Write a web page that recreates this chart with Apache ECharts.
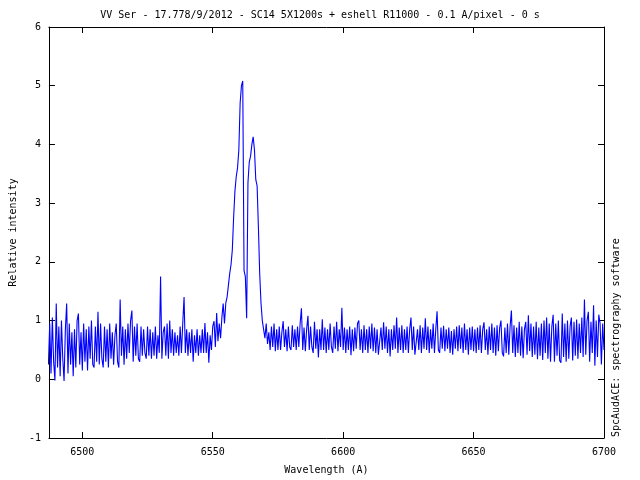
<!DOCTYPE html>
<html>
<head>
<meta charset="utf-8">
<script src="https://cdn.jsdelivr.net/npm/echarts@6/dist/echarts.min.js"></script>
<style>html,body{margin:0;padding:0;background:#fff}#c{width:640px;height:480px}</style>
</head>
<body>
<div id="c"></div>
<script>
// Spectrum: first wavelength (A) and sampling step (A) of the intensity list below
const wavelengthStart = 6487.0;
const wavelengthStep = 0.5;
const intensity = [
  // 6487.0 - 6496.5
  0.25, 0.95, 0.10, 1.05, 0.30, -0.02, 1.29, 0.20, 0.90, 0.05, 1.00, 0.35, -0.03, 0.85, 1.29, 0.10, 0.95, 0.25, 0.80, 0.05,
  // 6497.0 - 6506.5
  0.85, 0.20, 1.00, 1.12, 0.25, 0.80, 0.15, 0.95, 0.30, 0.85, 0.15, 0.90, 0.35, 1.00, 0.25, 0.20, 0.90, 0.30, 1.15, 0.25,
  // 6507.0 - 6516.5
  0.95, 0.35, 0.20, 0.90, 0.30, 0.85, 0.20, 0.95, 0.35, 0.80, 0.25, 0.75, 0.95, 0.30, 0.20, 1.36, 0.40, 0.90, 0.25, 0.85,
  // 6517.0 - 6526.5
  0.35, 0.95, 0.45, 1.00, 1.17, 0.30, 0.90, 0.40, 0.95, 0.35, 0.30, 0.90, 0.40, 0.85, 0.45, 0.35, 0.90, 0.40, 0.85, 0.35,
  // 6527.0 - 6536.5
  0.80, 0.40, 0.90, 0.35, 0.75, 0.45, 1.75, 0.35, 0.80, 0.90, 0.40, 0.95, 0.35, 1.00, 0.45, 0.85, 0.40, 0.80, 0.45, 0.75,
  // 6537.0 - 6546.5
  0.40, 0.90, 0.45, 0.95, 1.40, 0.45, 0.85, 0.40, 0.80, 0.45, 0.85, 0.30, 0.75, 0.45, 0.85, 0.40, 0.75, 0.45, 0.85, 0.45,
  // 6547.0 - 6556.0
  0.96, 0.45, 0.80, 0.28, 0.75, 0.50, 0.90, 0.99, 0.55, 1.13, 0.65, 0.95, 0.70, 1.05, 1.29, 0.95, 1.30, 1.40, 1.60,
  // 6556.5 - 6571.0 (H-alpha double peak)
  1.80, 1.95, 2.20, 2.75, 3.20, 3.45, 3.60, 3.90, 4.70, 5.00, 5.08, 1.85, 1.75, 1.04, 3.35,
  3.70, 3.80, 4.00, 4.13, 3.90, 3.40, 3.30, 2.60, 1.80, 1.30, 1.00, 0.85, 0.70, 0.95, 0.60,
  // 6571.5 - 6581.5
  0.80, 0.50, 0.90, 0.55, 0.95, 0.48, 0.85, 0.50, 0.90, 0.50, 0.80, 0.99, 0.55, 0.85, 0.48, 0.90, 0.55, 0.50, 0.92, 0.55, 0.85,
  // 6582.0 - 6591.5
  0.50, 0.90, 0.55, 0.95, 1.21, 0.50, 0.88, 0.48, 0.85, 1.08, 0.50, 0.90, 0.55, 0.45, 0.98, 0.52, 0.85, 0.37, 0.85, 0.50,
  // 6592.0 - 6601.5
  1.02, 0.50, 0.88, 0.45, 0.85, 0.50, 0.95, 0.55, 0.45, 0.90, 0.52, 0.98, 0.48, 0.85, 0.55, 1.22, 0.50, 0.88, 0.45, 0.85,
  // 6602.0 - 6611.5
  0.50, 0.90, 0.41, 0.85, 0.48, 0.88, 0.52, 0.95, 1.00, 0.50, 0.85, 0.45, 0.92, 0.50, 0.85, 0.45, 0.90, 0.52, 0.95, 0.48,
  // 6612.0 - 6621.5
  0.88, 0.45, 0.85, 0.42, 0.39, 0.88, 0.50, 0.97, 0.52, 0.90, 0.45, 0.85, 0.39, 0.85, 0.50, 0.92, 0.52, 1.05, 0.45, 0.88,
  // 6622.0 - 6631.5
  0.50, 0.92, 0.45, 0.85, 0.50, 0.90, 0.45, 0.85, 1.05, 0.50, 0.90, 0.42, 0.41, 0.85, 0.50, 0.92, 0.45, 0.88, 0.52, 1.04,
  // 6632.0 - 6641.5
  0.50, 0.90, 0.45, 0.85, 0.52, 0.95, 0.45, 0.85, 1.16, 0.50, 0.45, 0.88, 0.52, 0.91, 0.48, 0.85, 0.52, 0.88, 0.45, 0.82,
  // 6642.0 - 6651.5
  0.42, 0.85, 0.52, 0.90, 0.48, 0.92, 0.52, 0.88, 0.45, 0.95, 0.50, 0.85, 0.42, 0.88, 0.50, 0.90, 0.48, 0.85, 0.45, 0.88,
  // 6652.0 - 6661.5
  0.50, 0.92, 0.45, 0.85, 0.97, 0.50, 0.85, 0.42, 0.90, 0.50, 0.95, 0.45, 0.88, 0.40, 0.92, 0.48, 0.88, 1.00, 0.45, 0.39,
  // 6662.0 - 6671.5
  0.88, 0.45, 0.95, 0.42, 0.90, 1.17, 0.45, 0.92, 0.38, 0.88, 0.45, 0.98, 0.40, 0.90, 0.36, 0.85, 0.98, 0.42, 1.09, 0.48,
  // 6672.0 - 6681.5
  0.95, 0.38, 0.90, 0.42, 0.98, 0.34, 0.88, 0.40, 0.95, 0.33, 1.00, 0.45, 1.05, 0.35, 0.95, 0.30, 0.90, 1.10, 0.30, 0.95,
  // 6682.0 - 6691.5
  0.40, 1.00, 0.32, 0.28, 1.12, 0.38, 0.95, 0.30, 1.00, 0.35, 0.90, 1.05, 0.32, 0.98, 0.40, 1.02, 0.35, 0.95, 0.45, 1.05,
  // 6692.0 - 6700.0
  0.38, 1.36, 0.42, 1.00, 1.15, 0.30, 0.98, 0.45, 1.26, 0.23, 1.00, 0.38, 1.10, 0.95, 0.25, 0.95, 0.50
];
const xTicks = [6500, 6550, 6600, 6650, 6700];
const xRange = [6487.2, 6700];
const yRange = [-1, 6];
const titleText = 'VV Ser - 17.778/9/2012 - SC14 5X1200s + eshell R11000 - 0.1 A/pixel - 0 s';
const xName = 'Wavelength (A)';
const yName = 'Relative intensity';
const sideText = 'SpcAudACE: spectrography software';

const points = intensity.map((v, i) => [wavelengthStart + i * wavelengthStep, v]);

const FONT = 'DejaVu Sans Mono';
const chart = echarts.init(document.getElementById('c'), null, {renderer: 'canvas'});
const tickStyle = {show: true, inside: true, length: 6, lineStyle: {color: '#000', width: 1}};
const lineStyle = {show: true, onZero: false, lineStyle: {color: '#000', width: 1}};
chart.setOption({
  animation: false,
  backgroundColor: '#fff',
  title: {
    text: titleText, left: 'center', top: 5,
    textStyle: {fontFamily: FONT, fontSize: 10, fontWeight: 'normal', color: '#000'}
  },
  grid: {left: 46, right: 36, top: 27, bottom: 42, show: false},
  xAxis: [{
    type: 'value', min: xRange[0], max: xRange[1], position: 'bottom',
    name: xName, nameLocation: 'middle', nameGap: 27,
    nameTextStyle: {fontFamily: FONT, fontSize: 10, color: '#000'},
    axisLine: lineStyle,
    axisTick: Object.assign({customValues: xTicks}, tickStyle),
    axisLabel: {customValues: xTicks, formatter: v => String(v), fontFamily: FONT, fontSize: 10, color: '#000', margin: 9},
    splitLine: {show: false}
  }, {
    type: 'value', min: xRange[0], max: xRange[1], position: 'top',
    axisLine: lineStyle,
    axisTick: Object.assign({customValues: xTicks}, tickStyle),
    axisLabel: {show: false},
    splitLine: {show: false}
  }],
  yAxis: [{
    type: 'value', min: yRange[0], max: yRange[1], interval: 1, position: 'left',
    name: yName, nameLocation: 'middle', nameGap: 23, nameRotate: 90,
    nameTextStyle: {fontFamily: FONT, fontSize: 10, color: '#000'},
    axisLine: lineStyle,
    axisTick: tickStyle,
    axisLabel: {fontFamily: FONT, fontSize: 10, color: '#000', margin: 8},
    splitLine: {show: false}
  }, {
    type: 'value', min: yRange[0], max: yRange[1], interval: 1, position: 'right',
    axisLine: lineStyle,
    axisTick: tickStyle,
    axisLabel: {show: false},
    splitLine: {show: false}
  }],
  graphic: [{
    type: 'text', x: 611, y: 437, rotation: Math.PI / 2,
    style: {text: sideText, font: '10px "DejaVu Sans Mono"', fill: '#000', align: 'left', verticalAlign: 'top'}
  }],
  series: [{
    type: 'line', xAxisIndex: 0, yAxisIndex: 0, data: points,
    showSymbol: false, symbol: 'none', clip: true,
    lineStyle: {color: '#0000ff', width: 1.1}
  }]
});
</script>
</body>
</html>
